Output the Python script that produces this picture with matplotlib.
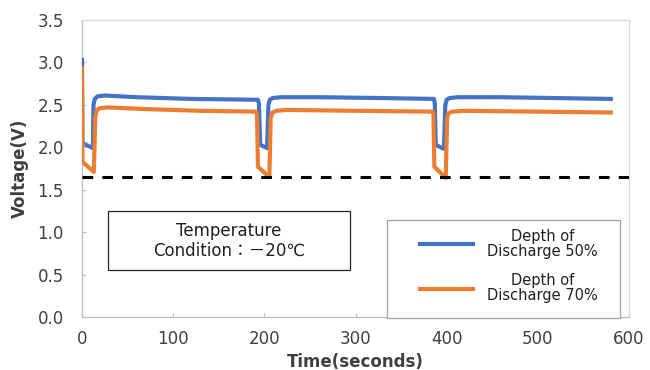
import matplotlib
matplotlib.use("Agg")
import matplotlib.pyplot as plt
from matplotlib.patches import Rectangle

plt.rcParams['font.family'] = ['DejaVu Sans', 'Noto Sans CJK JP']

# ---- data ----
blue_t = [0, 0.5, 12, 12.6, 14, 17, 25, 60, 120, 193,
          194, 195.5, 203, 204.5, 206, 209, 218, 260, 330, 386,
          387, 388, 397, 398.5, 400, 403, 412, 460, 520, 580]
blue_v = [3.03, 2.05, 1.99, 2.50, 2.57, 2.60, 2.61, 2.59, 2.57, 2.56,
          2.52, 2.03, 1.99, 2.50, 2.56, 2.58, 2.59, 2.59, 2.58, 2.57,
          2.52, 2.03, 1.98, 2.50, 2.56, 2.58, 2.59, 2.59, 2.58, 2.57]

orange_t = [0, 0.5, 13, 14.5, 16, 19, 28, 70, 130, 191,
            192, 193, 205.5, 207, 209, 213, 225, 300, 385,
            385.5, 386.5, 399, 400.5, 402, 406, 418, 500, 580]
orange_v = [2.93, 1.83, 1.71, 2.35, 2.43, 2.46, 2.47, 2.45, 2.43, 2.42,
            2.38, 1.77, 1.65, 2.35, 2.41, 2.43, 2.44, 2.43, 2.42,
            2.38, 1.77, 1.64, 2.35, 2.40, 2.42, 2.43, 2.42, 2.41]

threshold_t = [0, 600]
threshold_v = [1.65, 1.65]

series_labels = ["Depth of\nDischarge 50%", "Depth of\nDischarge 70%"]
x_ticks = [0, 100, 200, 300, 400, 500, 600]
y_ticks = [0.0, 0.5, 1.0, 1.5, 2.0, 2.5, 3.0, 3.5]
x_label = "Time(seconds)"
y_label = "Voltage(V)"
note_text = "Temperature\nCondition：－20℃"

# ---- figure ----
fig = plt.figure(figsize=(6.5, 3.7), dpi=100)
ax = fig.add_axes([82/650, 53/370, 547/650, 297/370])

def px_x(p):
    return (p - 82) / 547

def px_y(p):
    return (317 - p) / 297

blue = "#4472C4"
orange = "#ED7D31"
grid_gray = "#BFBFBF"
text_col = "#404040"

l1, = ax.plot(blue_t, blue_v, color=blue, lw=3.0, solid_joinstyle='round', zorder=3)
l2, = ax.plot(orange_t, orange_v, color=orange, lw=3.0, solid_joinstyle='round', zorder=4)
ax.plot(threshold_t, threshold_v, color="black", lw=2.2, dashes=(3.5, 3.0), zorder=5)

ax.set_xlim(0, 600)
ax.set_ylim(0, 3.5)
ax.set_xticks(x_ticks)
ax.set_yticks(y_ticks)
ax.set_xticklabels([str(v) for v in x_ticks])
ax.set_yticklabels([f"{v:.1f}" for v in y_ticks])
ax.tick_params(direction='in', length=3, width=0.8, color=grid_gray,
               labelsize=12, labelcolor=text_col)
ax.tick_params(axis='x', pad=9)
ax.tick_params(axis='y', pad=13)

for s in ax.spines.values():
    s.set_color("#D9D9D9")
    s.set_linewidth(1.0)
ax.spines['left'].set_color(grid_gray)
ax.spines['bottom'].set_color(grid_gray)

ax.set_xlabel(x_label, fontsize=12, fontweight='bold', color=text_col, labelpad=4)
ax.set_ylabel(y_label, fontsize=12, fontweight='bold', color=text_col, labelpad=6)

# note box
ax.add_patch(Rectangle((px_x(108), px_y(270)), 242/547, 59/297,
                       transform=ax.transAxes, facecolor='white',
                       edgecolor='#262626', lw=0.9, zorder=6))
ax.text(px_x(229), px_y(241), note_text, transform=ax.transAxes,
        ha='center', va='center', fontsize=12, color='#202020',
        multialignment='center', linespacing=1.1, zorder=7)

# legend frame
ax.add_patch(Rectangle((px_x(387), px_y(318)), 233/547, 98/297,
                       transform=ax.transAxes, facecolor='white',
                       edgecolor="#A6A6A6", lw=1.0, zorder=8, clip_on=False))
leg = ax.legend([l1, l2], series_labels, loc='center left',
                bbox_to_anchor=(px_x(420), px_y(266)), borderaxespad=0,
                fontsize=10.5, handlelength=3.6, handletextpad=1.0,
                borderpad=0.0, labelspacing=1.02, frameon=False)
leg.set_zorder(9)
for t in leg.get_texts():
    t.set_multialignment('center')
    t.set_color('#202020')
    t.set_linespacing(1.0)

fig.savefig("out.png", dpi=100)
